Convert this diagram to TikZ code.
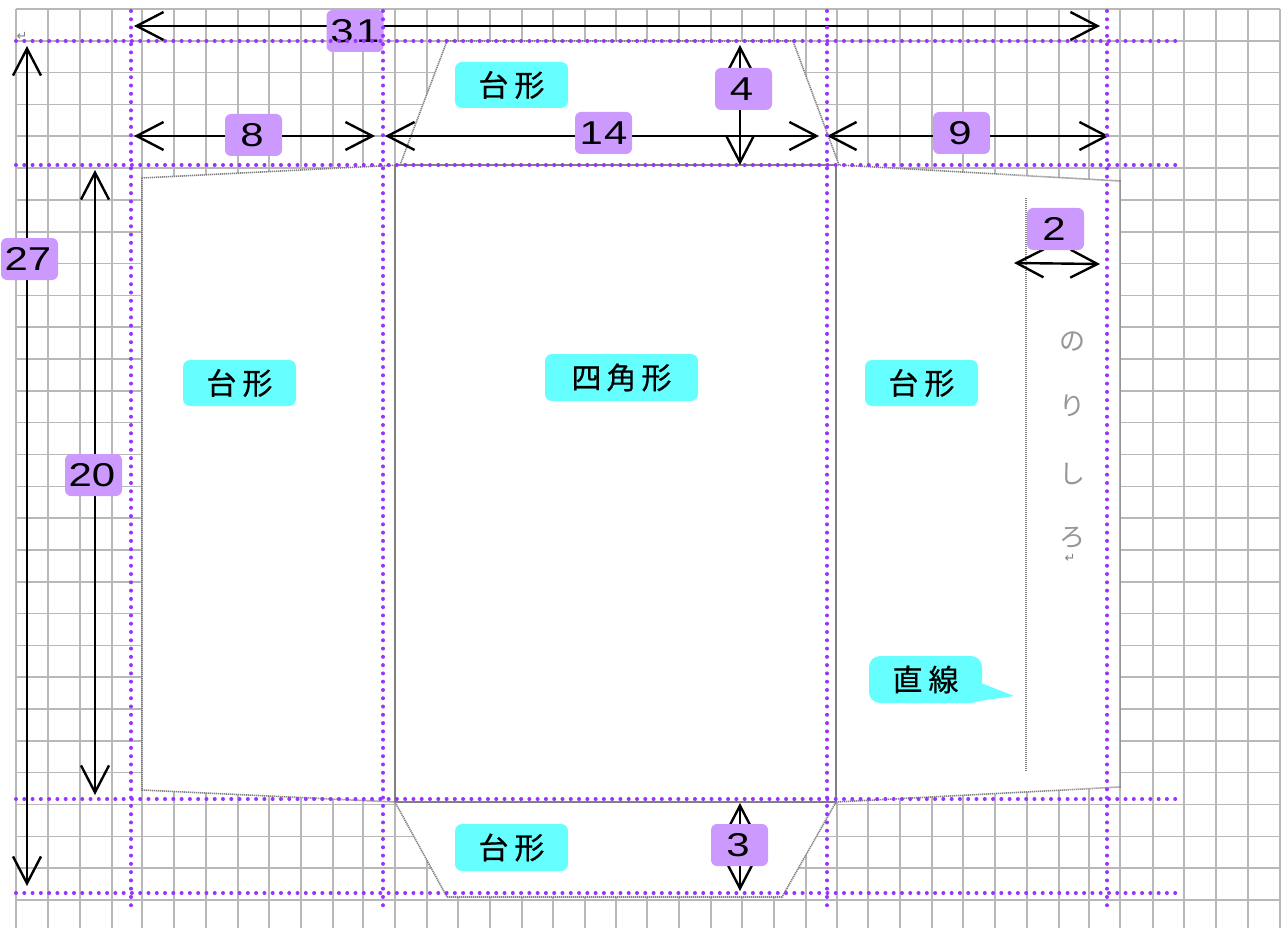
\documentclass[tikz,border=0pt]{standalone}
\usepackage{fontspec}
\usepackage{graphicx}
\usetikzlibrary{arrows.meta}
\setmainfont{Liberation Sans}
\newfontfamily\jpfont{Noto Sans CJK JP}
\newfontfamily\jpbold{Noto Sans CJK JP}[FakeBold=0.6]
\newfontfamily\symfont{DejaVu Sans}
\definecolor{gridc}{HTML}{B8B8B8}
\definecolor{dotc}{HTML}{9933FF}
\definecolor{lilac}{HTML}{CC99FF}
\definecolor{aqua}{HTML}{66FFFF}
\definecolor{edgec}{HTML}{808080}
\definecolor{kanac}{HTML}{969696}
\newcommand{\digs}[1]{\scalebox{1.27}[1]{\fontsize{33}{33}\selectfont #1}}
\newcommand{\jpt}[2]{{\jpbold\fontsize{30}{30}\selectfont #1\hspace{#2}}}
\tikzset{
  gridline/.style={gridc,line width=1.6pt},
  outline/.style={edgec,line width=1.6pt,dash pattern=on 1.2pt off 0.8pt},
  fold/.style={edgec,line width=1.6pt},
  guide/.style={dotc,line width=4pt,line cap=round,dash pattern=on 0pt off 8.28pt},
  dim/.style={black,line width=2.4pt,{Straight Barb[length=27pt,width=28pt,line width=2.4pt]}-{Straight Barb[length=27pt,width=28pt,line width=2.4pt]}},
  numlabel/.style={fill=lilac,rounded corners=6pt,minimum width=57pt,minimum height=42pt,inner sep=0pt,text=black},
  shapelabel/.style={fill=aqua,rounded corners=7pt,minimum width=113pt,minimum height=46pt,inner sep=0pt,text=black},
  kana/.style={text=kanac,inner sep=0pt,font=\jpfont\fontsize{26}{26}\selectfont},
  retmark/.style={text=edgec,inner sep=0pt,font=\symfont\fontsize{13}{13}\selectfont}
}
\begin{document}
\begin{tikzpicture}[x=1pt,y=-1pt]
\useasboundingbox (0,0) rectangle (1282,928);
\fill[white] (0,0) rectangle (1282,928);
% grid
\foreach \gx in {16,48,80,112,142,174,206,238,269,301,333,363,395,427,458,490,522,553,585,616,647,679,711,742,774,806,837,868,900,932,963,995,1027,1059,1089,1120,1153,1184,1216,1248,1280}
  \draw[gridline] (\gx,9) -- (\gx,928);
\foreach \gk in {0,...,28}
  \draw[gridline] (16,{9+31.82*\gk}) -- (1280,{9+31.82*\gk});
% sheet
\coordinate (a1) at (142,178);
\coordinate (a2) at (400,165);
\coordinate (a3) at (447,41);
\coordinate (a4) at (793,41);
\coordinate (a5) at (839,165);
\coordinate (a6) at (1120,181);
\coordinate (a7) at (1120,787);
\coordinate (a8) at (836,802);
\coordinate (a9) at (782,897);
\coordinate (a10) at (447,897);
\coordinate (a11) at (395,802);
\coordinate (a12) at (142,790);
\coordinate (f1) at (395,165);
\coordinate (f2) at (836,165);
\fill[white] (a1) -- (a2) -- (a3) -- (a4) -- (a5) -- (a6) -- (a7) -- (a8) -- (a9) -- (a10) -- (a11) -- (a12) -- cycle;
\draw[outline] (a1) -- (a2) -- (a3) -- (a4) -- (a5) -- (a6) -- (a7) -- (a8) -- (a9) -- (a10) -- (a11) -- (a12) -- cycle;
\draw[fold] (f1) -- (a11);
\draw[fold] (f2) -- (a8);
\draw[fold] (f1) -- (f2);
\draw[fold,line width=2pt] (a11) -- (a8);
% glue line
\coordinate (g1) at (1026,198);
\coordinate (g2) at (1026,771);
\draw[outline,line width=2.4pt] (g1) -- (g2);
\node[kana] (k1) at (1072,342) {の};
\node[kana] (k2) at (1072,406) {り};
\node[kana] (k3) at (1072,474) {し};
\node[kana] (k4) at (1072,538) {ろ};
\node[retmark] (r1) at (1070,558) {↵};
\node[retmark] (r2) at (22,36) {↵};
% dimension ends
\coordinate (d31a) at (134,26);  \coordinate (d31b) at (1100,26);
\coordinate (d8a) at (134,136);  \coordinate (d8b) at (375,136);
\coordinate (d14a) at (385,136); \coordinate (d14b) at (819,136);
\coordinate (d9a) at (827,136);  \coordinate (d9b) at (1109,136);
\coordinate (d2a) at (1014,263); \coordinate (d2b) at (1100,264);
\coordinate (d27a) at (27,46);   \coordinate (d27b) at (27,886);
\coordinate (d20a) at (95,170);  \coordinate (d20b) at (95,795);
\coordinate (d4a) at (740,45);   \coordinate (d4b) at (740,165);
\coordinate (d3a) at (740,803);  \coordinate (d3b) at (740,891);
\draw[dim] (d31a) -- (d31b);
\draw[dim] (d8a) -- (d8b);
\draw[dim] (d14a) -- (d14b);
\draw[dim] (d9a) -- (d9b);
\draw[dim] (d2a) -- (d2b);
\draw[dim] (d27a) -- (d27b);
\draw[dim] (d20a) -- (d20b);
\draw[dim] (d4a) -- (d4b);
\draw[dim] (d3a) -- (d3b);
% number labels
\node[numlabel] (n31) at (355,31) {\digs{3\hspace{2pt}1}};
\node[numlabel] (n8) at (253.5,135) {\hspace{-3pt}\digs{8}};
\node[numlabel] (n14) at (603.5,133) {\digs{1\hspace{1pt}4}};
\node[numlabel] (n4) at (743.5,89) {\hspace{-4pt}\digs{4}};
\node[numlabel] (n9) at (961.5,133) {\hspace{-3pt}\digs{9}};
\node[numlabel] (n2) at (1055.5,229) {\hspace{-3pt}\digs{2}};
\node[numlabel] (n27) at (29.5,259) {\hspace{-3pt}\digs{27}};
\node[numlabel] (n20) at (93.5,475) {\hspace{-3pt}\digs{20}};
\node[numlabel] (n3) at (739.5,845) {\hspace{-3pt}\digs{3}};
% shape labels
\node[shapelabel] (s1) at (511.5,85) {\jpt{台}{6pt}\jpt{形}{3pt}};
\node[shapelabel,minimum width=153pt,minimum height=47pt] (s2) at (621.5,377.5) {\jpt{四}{5pt}\jpt{角}{5pt}\jpt{形}{5pt}};
\node[shapelabel] (s3) at (239.5,383) {\jpt{台}{6pt}\jpt{形}{3pt}};
\node[shapelabel] (s4) at (921.5,383) {\jpt{台}{6pt}\jpt{形}{3pt}};
\node[shapelabel,minimum height=47pt] (s5) at (511.5,847.5) {\jpt{台}{6pt}\jpt{形}{3pt}};
% callout
\node[shapelabel,rounded corners=11pt,minimum height=47pt] (s6) at (925.5,679.5) {\jpt{直}{6pt}\jpt{線}{7pt}};
\coordinate (t1) at (981,683);
\coordinate (t2) at (1014,696);
\coordinate (t3) at (972,702);
\fill[aqua] (t1) -- (t2) -- (t3) -- cycle;
% guide lines
\foreach \gx/\gn in {131/a,383/b,827/c,1107/d}{
  \coordinate (v\gn1) at (\gx,11);
  \coordinate (v\gn2) at (\gx,907);
  \draw[guide] (v\gn1) -- (v\gn2);
}
\foreach \gy/\gn in {41/a,165/b,799/c,893/d}{
  \coordinate (h\gn1) at (16,\gy);
  \coordinate (h\gn2) at (1178,\gy);
  \draw[guide] (h\gn1) -- (h\gn2);
}
\end{tikzpicture}
\end{document}
